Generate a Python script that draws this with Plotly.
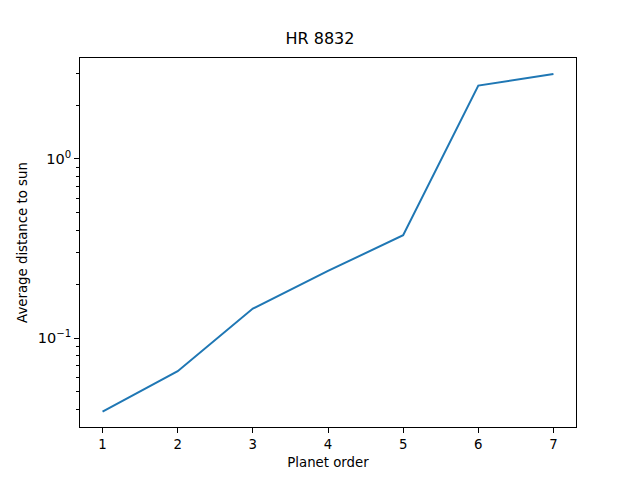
import plotly.graph_objects as go

planet_order = [1, 2, 3, 4, 5, 6, 7]
avg_distance = [0.0388, 0.0653, 0.146, 0.237, 0.375, 2.57, 2.98]
y_tick_vals = [0.1, 1]
y_tick_text = ["10<sup>−1</sup>", "10<sup>0</sup>"]
minor_vals = [0.03, 0.04, 0.05, 0.06, 0.07, 0.08, 0.09, 0.2, 0.3, 0.4, 0.5, 0.6, 0.7, 0.8, 0.9, 2, 3]

fig = go.Figure()
fig.add_trace(go.Scatter(x=planet_order, y=avg_distance, mode="lines",
                         line=dict(color="#1f77b4", width=2)))
fig.add_trace(go.Scatter(x=planet_order, y=avg_distance, mode="lines", yaxis="y2",
                         line=dict(color="rgba(0,0,0,0)", width=0), hoverinfo="skip"))

font = dict(family="DejaVu Sans", size=13.3, color="black")
yrange = [-1.497, 0.564]
fig.update_layout(
    width=640, height=480,
    margin=dict(l=80, r=64, t=58, b=53),
    paper_bgcolor="white", plot_bgcolor="white",
    showlegend=False,
    font=font,
    title=dict(text="HR 8832", x=0.5, xanchor="center", y=1 - 38/480, yanchor="middle",
               font=dict(family="DejaVu Sans", size=16, color="black")),
    xaxis=dict(range=[0.7, 7.3], tickvals=planet_order, ticks="outside", ticklen=5,
               tickwidth=1, tickcolor="black", showgrid=False, zeroline=False,
               showline=True, linecolor="black", linewidth=1, mirror=True,
               title=dict(text="Planet order", font=font, standoff=6)),
    yaxis=dict(type="log", range=yrange, tickvals=y_tick_vals, ticktext=y_tick_text,
               ticks="outside", ticklen=5, tickwidth=1, tickcolor="black",
               showgrid=False, zeroline=False, showline=True, linecolor="black",
               linewidth=1, mirror=True, tickfont=dict(family="DejaVu Sans", size=14.5, color="black"),
               title=dict(text="Average distance to sun", font=font, standoff=7)),
    yaxis2=dict(type="log", range=yrange, overlaying="y", side="left", anchor="x",
                tickmode="array", tickvals=minor_vals,
                ticks="outside", ticklen=3, tickwidth=1, tickcolor="black",
                showticklabels=False, showgrid=False, zeroline=False, showline=False),
)

fig.write_html("out.html", config={"displayModeBar": False},
               post_script="document.body.style.margin='0';document.body.style.overflow='hidden';")
